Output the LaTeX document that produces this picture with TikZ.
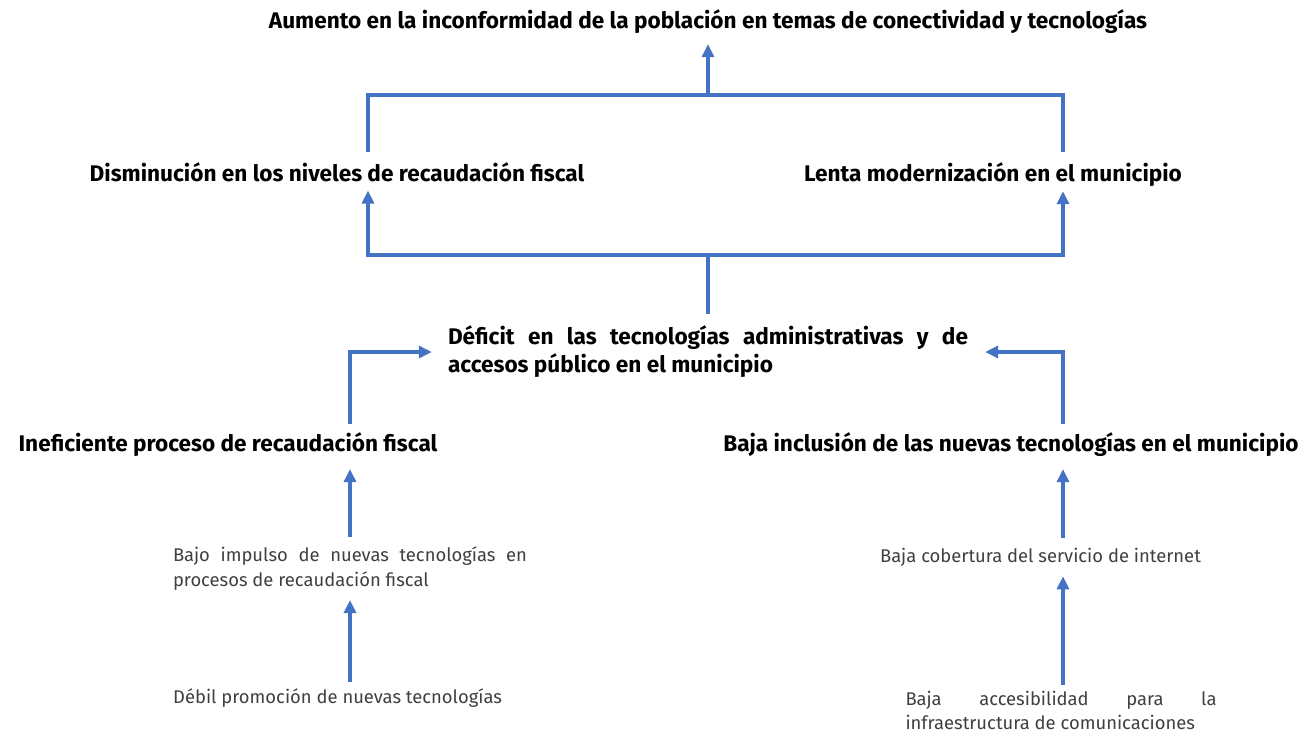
\documentclass[tikz,border=0pt]{standalone}
\usepackage{fontspec}
\setmainfont{Fira Sans}
\usetikzlibrary{arrows.meta}
\definecolor{ablue}{HTML}{4472C4}
\definecolor{tgray}{HTML}{404040}
\begin{document}
\begin{tikzpicture}[x=1pt,y=-1pt,
  ln/.style={draw=ablue,line width=3.8pt},
  arr/.style={ln,-{Triangle[length=13pt,width=12pt]}},
  hd/.style={font=\bfseries\fontsize{22.6}{28}\selectfont,text=black,inner sep=0pt},
  sm/.style={font=\fontsize{18.4}{25}\selectfont,text=tgray,inner sep=0pt}]
\useasboundingbox (0,0) rectangle (1307,732);
\fill[white] (0,0) rectangle (1307,732);
% nodes
\node[hd] (t0) at (708,22) {Aumento en la inconformidad de la población en temas de conectividad y tecnologías};
\node[hd,anchor=base] (d1) at (337,181) {Disminución en los niveles de recaudación fiscal};
\node[hd,anchor=base] (d2) at (993,181) {Lenta modernización en el municipio};
\node[hd,text width=520pt,align=justify] (c) at (708,352) {Déficit en las tecnologías administrativas y de\linebreak accesos público en el municipio};
\node[hd] (k1) at (228,445) {Ineficiente proceso de recaudación fiscal};
\node[hd] (k2) at (1011,445) {Baja inclusión de las nuevas tecnologías en el municipio};
\node[sm,text width=354pt,align=justify] (s1) at (350,569) {Bajo impulso de nuevas tecnologías en\linebreak procesos de recaudación fiscal};
\node[sm,anchor=west] (r1) at (173,698) {Débil promoción de nuevas tecnologías};
\node[sm,anchor=west] (s2) at (880,557) {Baja cobertura del servicio de internet};
\node[sm,text width=311pt,align=justify,font=\fontsize{18.4}{24}\selectfont] (r2) at (1061,710) {Baja accesibilidad para la\linebreak infraestructura de comunicaciones};
% coordinates
\coordinate (j1) at (708,95);
\coordinate (j2) at (708,255);
\coordinate (xL) at (368,0);
\coordinate (xR) at (1063,0);
\coordinate (xl) at (350,0);
% connectors
\draw[ln,shorten <=10pt,shorten >=10pt] (xL |- d1.north) |- (j1) -| (xR |- d2.north);
\draw[arr,shorten >=10pt] (j1) -- (j1 |- t0.south);
\draw[arr,shorten >=9pt] (j2) -| (xL |- d1.south);
\draw[arr,shorten >=5pt] (j2) -| (xR |- d2.south);
\draw[ln,shorten <=12pt] (j2 |- c.north) -- (j2);
\draw[arr,shorten <=9pt] (xl |- k1.north) |- ([xshift=-16pt]c.west);
\draw[arr,shorten <=9pt] (xR |- k2.north) |- ([xshift=17pt]c.east);
\draw[arr,shorten <=10pt,shorten >=12pt] (xl |- s1.north) -- (xl |- k1.south);
\draw[arr,shorten <=6pt,shorten >=9pt] (xl |- r1.north) -- (xl |- s1.south);
\draw[arr,shorten <=10pt,shorten >=12pt] (xR |- s2.north) -- (xR |- k2.south);
\draw[arr,shorten <=6pt,shorten >=10pt] (xR |- r2.north) -- (xR |- s2.south);
\end{tikzpicture}
\end{document}
